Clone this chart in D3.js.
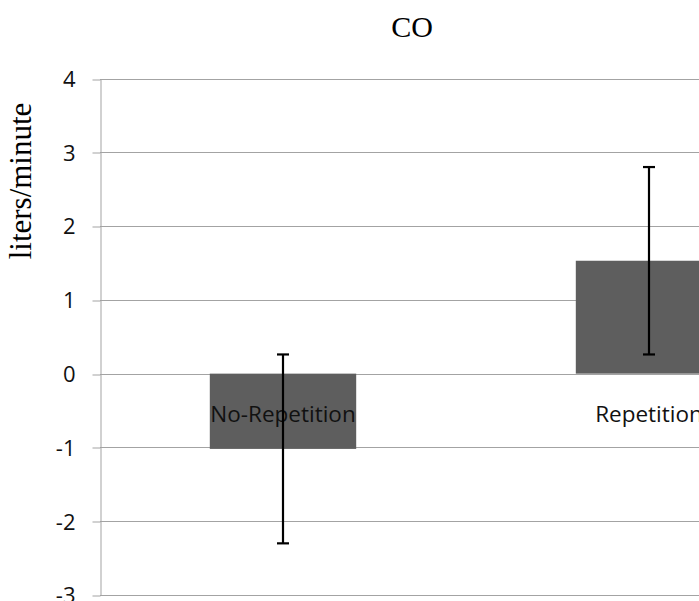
<!DOCTYPE html>
<html>
<head>
<meta charset="utf-8">
<script src="https://cdn.jsdelivr.net/npm/d3@7"></script>
<style>
  html, body { margin: 0; padding: 0; background: #fff; }
  svg { display: block; }
</style>
</head>
<body>
<svg id="chart" width="699" height="601"></svg>
<script>
const categories = ["No-Repetition", "Repetition"];
const means = [-1.02, 1.53];
const errors = [1.28, 1.27];
const yTicks = [-3, -2, -1, 0, 1, 2, 3, 4];
const title = "CO";
const yLabel = "liters/minute";

const svg = d3.select("#chart");
const W = 699, H = 601;

const x = d3.scaleBand().domain(categories).range([100, 832]).paddingInner(0.6).paddingOuter(0.3);
const y = d3.scaleLinear().domain([-3, 4]).range([595, 78.5]);

// gridlines
svg.append("g").selectAll("line").data(yTicks).join("line")
  .attr("x1", 100).attr("x2", W + 5)
  .attr("y1", d => Math.round(y(d)) + 0.5).attr("y2", d => Math.round(y(d)) + 0.5)
  .attr("stroke", "#a3a3a3").attr("stroke-width", 1);

// y axis
const yAxis = d3.axisLeft(y).tickValues(yTicks).tickSize(8).tickPadding(17).tickSizeOuter(0)
  .tickFormat(d => String(d));
const ga = svg.append("g").attr("transform", "translate(100.5,0)").call(yAxis);
ga.select(".domain").attr("stroke", "#a3a3a3");
ga.selectAll(".tick line").attr("stroke", "#a3a3a3")
  .attr("transform", function(d){ const v = y(d); return `translate(0,${Math.round(v)+0.5-v})`; });
ga.selectAll(".tick text").attr("font-family", "'Open Sans', sans-serif").attr("font-size", 22)
  .attr("fill", "#111").attr("dy", "0.36em");

// bars
svg.append("g").selectAll("rect").data(categories).join("rect")
  .attr("x", d => x(d))
  .attr("width", x.bandwidth())
  .attr("y", (d, i) => y(Math.max(0, means[i])))
  .attr("height", (d, i) => Math.abs(y(means[i]) - y(0)))
  .attr("fill", "#5e5e5e");

// category labels
svg.append("g").selectAll("text").data(categories).join("text")
  .attr("x", d => x(d) + x.bandwidth() / 2)
  .attr("y", y(0) + 48)
  .attr("text-anchor", "middle")
  .attr("font-family", "'Open Sans', sans-serif").attr("font-size", 22.5)
  .attr("fill", "#111")
  .text(d => d);

// error bars
const eg = svg.append("g").selectAll("g").data(categories).join("g");
eg.append("line")
  .attr("x1", d => x(d) + x.bandwidth() / 2).attr("x2", d => x(d) + x.bandwidth() / 2)
  .attr("y1", (d, i) => y(means[i] + errors[i])).attr("y2", (d, i) => y(means[i] - errors[i]))
  .attr("stroke", "#000").attr("stroke-width", 2.2);
[1, -1].forEach(s => {
  eg.append("line")
    .attr("x1", d => x(d) + x.bandwidth() / 2 - 6).attr("x2", d => x(d) + x.bandwidth() / 2 + 6)
    .attr("y1", (d, i) => y(means[i] + s * errors[i])).attr("y2", (d, i) => y(means[i] + s * errors[i]))
    .attr("stroke", "#000").attr("stroke-width", 2.2);
});

// title
svg.append("text").attr("x", 412).attr("y", 37).attr("text-anchor", "middle")
  .attr("font-family", "'Liberation Serif', 'Times New Roman', serif").attr("font-size", 30)
  .attr("fill", "#000").text(title);

// y label
svg.append("text").attr("transform", "translate(31,181) rotate(-90)").attr("text-anchor", "middle")
  .attr("font-family", "'Liberation Serif', 'Times New Roman', serif").attr("font-size", 31)
  .attr("fill", "#000").text(yLabel);
</script>
</body>
</html>
